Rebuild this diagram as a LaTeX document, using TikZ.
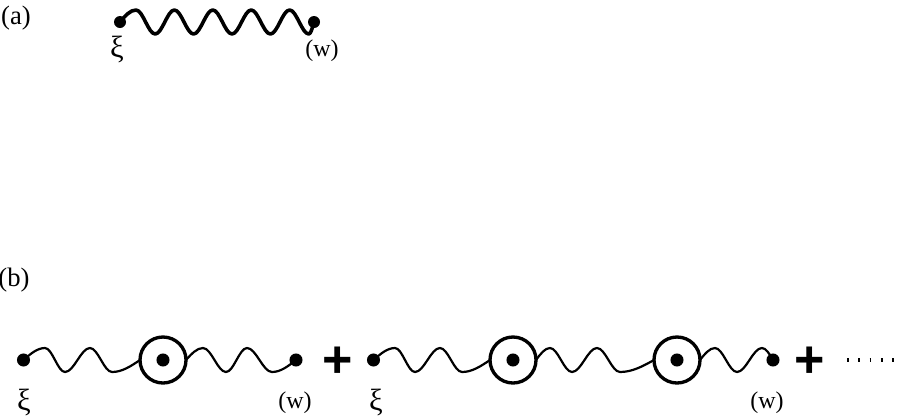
\documentclass[tikz,border=0pt]{standalone}
\usepackage{fontspec}
\setmainfont{Liberation Serif}
\newfontfamily\plusfont{Liberation Sans}
\begin{document}
\begin{tikzpicture}[x=0.75pt,y=-0.75pt,
  lbl/.style={inner sep=0pt, font=\fontsize{18}{20}\selectfont},
  tag/.style={inner sep=0pt, font=\fontsize{20}{22}\selectfont},
  xilbl/.style={inner sep=0pt, font=\fontsize{23}{25}\selectfont},
  dota/.style={circle, fill=black, inner sep=0pt, minimum size=9pt},
  dotb/.style={circle, fill=black, inner sep=0pt, minimum size=9.8pt},
  ring/.style={circle, draw=black, line width=2.5pt, inner sep=0pt, outer sep=0pt, minimum size=34.5pt},
  wavea/.style={line width=2.7pt, line cap=round, line join=round},
  waveb/.style={line width=1.65pt, line cap=round, line join=round},
  plussign/.style={inner sep=0pt, font=\plusfont\bfseries\fontsize{39}{44}\selectfont},
  etc/.style={line width=3pt, dash pattern=on 1.35pt off 7.09pt}
]
\useasboundingbox (0,0) rectangle (899,415);

% ---------- (a) ----------
\node[tag] (la) at (16,18) {(a)};
\node[dota] (a1) at (120,22) {};
\node[dota] (a2) at (314,22) {};
\draw[wavea] (a1.center) sin ++(16,-12)
  cos ++(9.6,12) sin ++(9.6,12) cos ++(9.6,-12) sin ++(9.6,-12)
  cos ++(9.6,12) sin ++(9.6,12) cos ++(9.6,-12) sin ++(9.6,-12)
  cos ++(9.6,12) sin ++(9.6,12) cos ++(9.6,-12) sin ++(9.6,-12)
  cos ++(9.6,12) sin ++(9.6,12) cos ++(9.6,-12) sin ++(9.6,-12)
  cos ++(9.6,12) sin ++(9.6,12) cos (a2.center);
\node[xilbl] (xa) at (117,49) {ξ};
\node[lbl] (wa) at (322,51) {(w)};

% ---------- (b) ----------
\node[tag] (lb) at (14,280) {(b)};
\node[dotb] (b1) at (23.5,360) {};
\node[ring] (r1) at (163,360) {};
\node[dotb] (r1c) at (163,360) {};
\node[dotb] (b2) at (296,360) {};
\node[plussign] (p1) at (338,362) {+};
\node[dotb] (b3) at (373.5,360) {};
\node[ring] (r2) at (513,360) {};
\node[dotb] (r2c) at (513,360) {};
\node[ring] (r3) at (677,360) {};
\node[dotb] (r3c) at (677,360) {};
\node[dotb] (b4) at (773,360) {};
\node[plussign] (p2) at (810,362) {+};
\coordinate (e1) at (847,360);
\coordinate (e2) at (894,360);
\draw[etc] (e1) -- (e2);

\draw[waveb] (b1.center) sin ++(21.5,-12) cos ++(10,12) sin ++(10,12)
  cos ++(12.5,-12) sin ++(12.5,-12) cos ++(11,12) sin ++(11,12) cos (r1.west);
\draw[waveb] (r1.east) sin ++(17,-12) cos ++(11.5,12) sin ++(11.5,12)
  cos ++(10.5,-12) sin ++(10.5,-12) cos ++(12.5,12) sin ++(12.5,12) cos (b2.center);
\draw[waveb] (b3.center) sin ++(21.5,-12) cos ++(10,12) sin ++(10,12)
  cos ++(12.5,-12) sin ++(12.5,-12) cos ++(11,12) sin ++(11,12) cos (r2.west);
\draw[waveb] (r2.east) sin ++(14,-12) cos ++(11,12) sin ++(11,12)
  cos ++(12.5,-12) sin ++(12.5,-12) cos ++(11.5,12) sin ++(11.5,12) cos (r3.west);
\draw[waveb] (r3.east) sin ++(15,-12) cos ++(11,12) sin ++(11,12)
  cos ++(12.5,-12) sin ++(12.5,-12) cos (b4.center);

\node[xilbl] (xb1) at (24,402) {ξ};
\node[lbl] (wb1) at (295,403) {(w)};
\node[xilbl] (xb2) at (376,402) {ξ};
\node[lbl] (wb2) at (767,403) {(w)};
\end{tikzpicture}
\end{document}
